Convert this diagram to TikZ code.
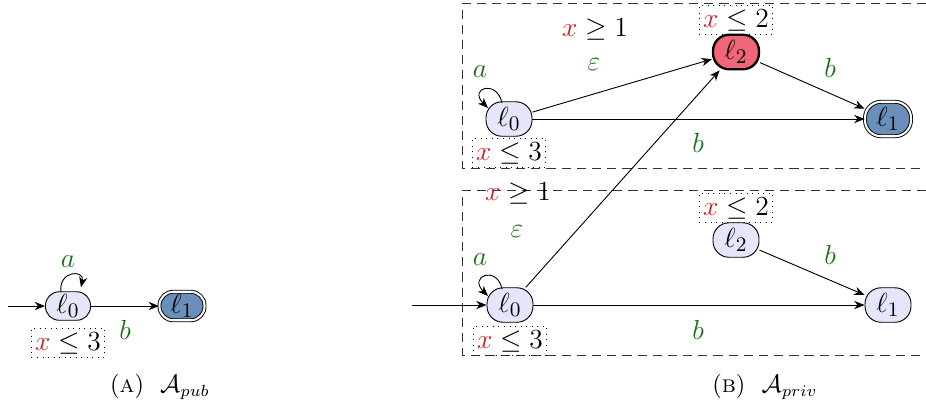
\documentclass[tikz,border=0pt]{standalone}
\usetikzlibrary{arrows.meta,calc}
\definecolor{xred}{RGB}{208,28,36}
\definecolor{lblgreen}{RGB}{25,110,25}
\definecolor{lav}{RGB}{230,230,250}
\definecolor{accblue}{RGB}{106,143,186}
\definecolor{secred}{RGB}{238,102,119}
\newcommand{\xv}{\textcolor{xred}{x}}
\begin{document}
\begin{tikzpicture}[x=0.4348pt,y=-0.4348pt,
  >={Stealth[length=4.5pt,width=3.6pt]},
  loc/.style={draw,fill=lav,rounded corners=7pt,minimum width=20pt,minimum height=15pt,inner sep=0pt,font=\fontsize{13.2}{15}\selectfont},
  locA/.style={loc,minimum width=19.6pt,minimum height=12.4pt,rounded corners=6pt},
  accept/.style={fill=accblue,double,double distance=0.9pt},
  secret/.style={fill=secred,line width=1pt},
  inv/.style={draw,dotted,inner sep=1.6pt,font=\large},
  lbl/.style={text=lblgreen,font=\large,inner sep=0pt},
  grd/.style={font=\large,inner sep=0pt},
  grp/.style={draw=black!80,dash pattern=on 4pt off 2.6pt},
  captxt/.style={font=\fontsize{10.6}{13}\selectfont,inner sep=0pt}]
\useasboundingbox (0,0) rectangle (926,408);

% ---------- Panel A ----------
\node[locA] (a0) at (68,306) {$\ell_0$};
\node[locA,accept] (a1) at (182,306) {$\ell_1$};
\coordinate (ainit) at (8,306);
\draw[->] (ainit) -- (a0);
\draw[->] (a0) -- (a1);
\draw[->] ($(a0.north)+(-7,1)$) .. controls +(-3,-22) and +(4,-18) .. ($(a0.north)+(13,-4)$);
\node[lbl] (aa) at (68,262) {$a$};
\node[lbl] (ab) at (125,330) {$b$};
\node[inv] (ainv) at (68,343) {$\xv \leq 3$};
\node[captxt] (capA) at (160,387) {(\textsc{a})\ \ $\mathcal{A}_{pub}$};

% ---------- Panel B: groups ----------
\draw[grp] (926,3) -- (462,3) -- (462,168) -- (926,168);
\draw[grp] (926,190) -- (462,190) -- (462,355) -- (926,355);

% top group
\node[loc] (t0) at (509,119) {$\ell_0$};
\node[loc,secret] (t2) at (736,52) {$\ell_2$};
\node[loc,accept] (t1) at (888,119) {$\ell_1$};
\draw[->] (t0) -- (t2);
\draw[->] (t0) -- (t1);
\draw[->] (t2) -- (t1);
\draw[->] ($(t0)+(-7,-16)$) .. controls +(-5,-24) and +(-20,-20) .. ($(t0)+(-21,-11)$);
\node[lbl] (ta) at (480,72) {$a$};
\node[grd] (tg) at (595,29) {$\xv \geq 1$};
\node[lbl] (te) at (594,65) {$\varepsilon$};
\node[lbl] (tb1) at (830,68) {$b$};
\node[lbl] (tb2) at (698,143) {$b$};
\node[inv] (tinv0) at (509,153) {$\xv \leq 3$};
\node[inv] (tinv2) at (736,20) {$\xv \leq 2$};

% bottom group
\node[loc] (c0) at (510,305) {$\ell_0$};
\node[loc] (c2) at (736,240) {$\ell_2$};
\node[loc] (c1) at (888,305) {$\ell_1$};
\coordinate (binit) at (412,305);
\draw[->] (binit) -- (c0);
\draw[->] (c0) -- (t2);
\draw[->] (c0) -- (c1);
\draw[->] (c2) -- (c1);
\draw[->] ($(c0)+(-8,-16)$) .. controls +(-5,-24) and +(-20,-20) .. ($(c0)+(-22,-9)$);
\node[lbl] (ca) at (480,260) {$a$};
\node[grd] (cg) at (518,193) {$\xv \geq 1$};
\node[lbl] (ce) at (517,232) {$\varepsilon$};
\node[lbl] (cb1) at (830,255) {$b$};
\node[lbl] (cb2) at (698,330) {$b$};
\node[inv] (cinv0) at (510,341) {$\xv \leq 3$};
\node[inv] (cinv2) at (736,208) {$\xv \leq 2$};

\node[captxt] (capB) at (765,387) {(\textsc{b})\ \ $\mathcal{A}_{priv}$};
\end{tikzpicture}
\end{document}
